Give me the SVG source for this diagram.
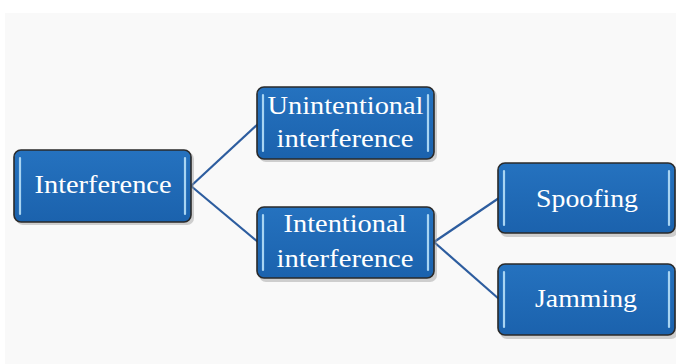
<svg xmlns="http://www.w3.org/2000/svg" width="676" height="364" viewBox="0 0 676 364">
  <style>
    .box { fill: url(#boxFill); stroke: #2a2a2a; stroke-width: 1.6; }
    .shadow { fill: #9a9a9a; opacity: 0.45; }
    .bar { stroke: #a8d4f2; stroke-width: 2.2; stroke-linecap: round; }
    .label { font-family: "Liberation Serif", "Times New Roman", serif; font-size: 26px; fill: #ffffff; text-anchor: middle; }
    .link { stroke: #2d5d9f; stroke-width: 2.2; fill: none; }
  </style>
  <defs>
    <linearGradient id="boxFill" x1="0" y1="0" x2="0" y2="1">
      <stop offset="0" stop-color="#2572bf"/>
      <stop offset="1" stop-color="#1b62ad"/>
    </linearGradient>
  </defs>

  <rect x="0" y="0" width="676" height="364" fill="#ffffff"/>
  <rect x="5" y="13" width="671" height="351" fill="#f9f9f9"/>

  <g id="connectors">
    <line class="link" x1="191" y1="186" x2="258" y2="124"/>
    <line class="link" x1="191" y1="186" x2="258" y2="242"/>
    <line class="link" x1="434" y1="242" x2="499" y2="198"/>
    <line class="link" x1="434" y1="242" x2="499" y2="299"/>
  </g>

  <g id="node-interference">
    <rect class="shadow" x="16" y="152" width="178" height="73" rx="7"/>
    <rect class="box" x="14" y="150" width="177" height="72" rx="7"/>
    <line class="bar" x1="20" y1="158" x2="20" y2="214"/>
    <line class="bar" x1="185" y1="158" x2="185" y2="214"/>
    <text class="label" x="103" y="193" textLength="137" lengthAdjust="spacingAndGlyphs">Interference</text>
  </g>

  <g id="node-unintentional">
    <rect class="shadow" x="259" y="89" width="178" height="73" rx="7"/>
    <rect class="box" x="257" y="87" width="177" height="72" rx="7"/>
    <line class="bar" x1="263" y1="95" x2="263" y2="151"/>
    <line class="bar" x1="428" y1="95" x2="428" y2="151"/>
    <text class="label" x="345.5" y="114" textLength="156" lengthAdjust="spacingAndGlyphs">Unintentional</text>
    <text class="label" x="345" y="147" textLength="137" lengthAdjust="spacingAndGlyphs">interference</text>
  </g>

  <g id="node-intentional">
    <rect class="shadow" x="259" y="209" width="178" height="73" rx="7"/>
    <rect class="box" x="257" y="207" width="177" height="71" rx="7"/>
    <line class="bar" x1="263" y1="215" x2="263" y2="270"/>
    <line class="bar" x1="428" y1="215" x2="428" y2="270"/>
    <text class="label" x="345" y="232" textLength="123" lengthAdjust="spacingAndGlyphs">Intentional</text>
    <text class="label" x="345" y="267" textLength="137" lengthAdjust="spacingAndGlyphs">interference</text>
  </g>

  <g id="node-spoofing">
    <rect class="shadow" x="500" y="165" width="178" height="72" rx="7"/>
    <rect class="box" x="498" y="163" width="177" height="70" rx="7"/>
    <line class="bar" x1="504" y1="171" x2="504" y2="225"/>
    <line class="bar" x1="669" y1="171" x2="669" y2="225"/>
    <text class="label" x="587" y="207" textLength="102" lengthAdjust="spacingAndGlyphs">Spoofing</text>
  </g>

  <g id="node-jamming">
    <rect class="shadow" x="500" y="266" width="178" height="73" rx="7"/>
    <rect class="box" x="498" y="264" width="177" height="71" rx="7"/>
    <line class="bar" x1="504" y1="272" x2="504" y2="327"/>
    <line class="bar" x1="669" y1="272" x2="669" y2="327"/>
    <text class="label" x="586" y="307" textLength="102" lengthAdjust="spacingAndGlyphs">Jamming</text>
  </g>
</svg>
